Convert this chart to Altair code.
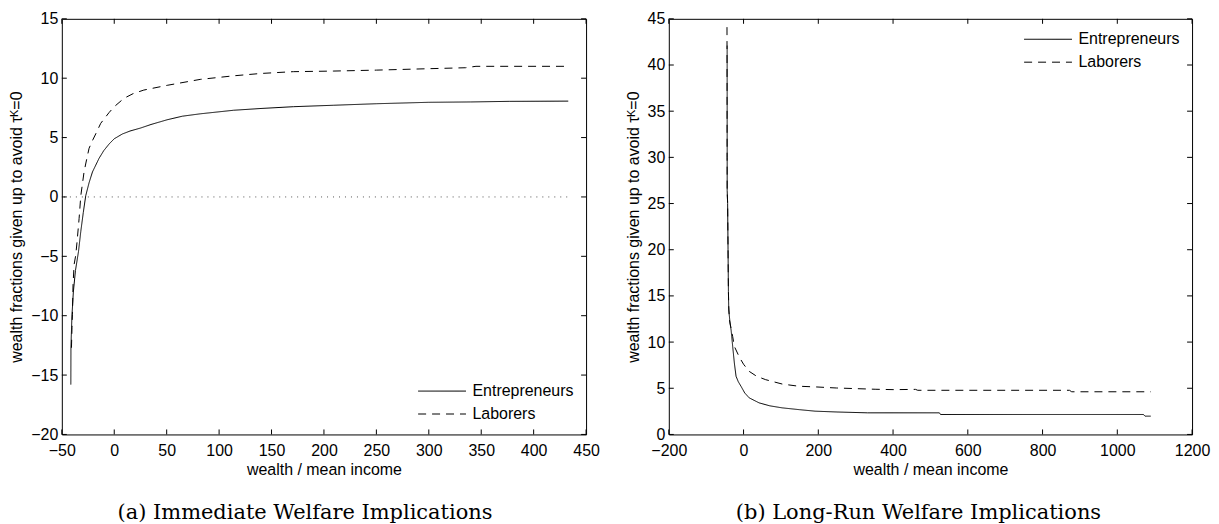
import altair as alt
import pandas as pd

# ---------------- data, panel (a): immediate welfare implications ----------------
ent_a_x = [-41.4, -41.3, -40.4, -39.0, -37.0, -34.1, -31.9, -29.5, -27.2, -24.0, -20.8, -14.5, -10.0, -5.0,
           0.0, 7.7, 15.0, 25.0, 35.0, 50.5, 65.0, 82.0, 113.8, 140.0, 170.8, 208.8, 250.0, 300.0, 340.0,
           376.8, 433.0]
ent_a_y = [-15.8, -12.7, -10.1, -8.0, -6.2, -4.6, -2.9, -1.3, 0.1, 1.2, 2.1, 3.25, 3.9, 4.45,
           4.9, 5.3, 5.55, 5.8, 6.1, 6.5, 6.8, 7.0, 7.3, 7.45, 7.6, 7.72, 7.85, 7.97, 8.0,
           8.05, 8.07]
lab_a_x = [-40.8, -40.3, -39.9, -39.3, -38.3, -36.7, -35.5, -33.5, -31.9, -28.8, -26.0, -24.0, -20.5, -17.7,
           -12.9, -5.0, 0.0, 9.2, 18.0, 28.2, 50.5, 82.0, 113.8, 140.0, 170.8, 208.8, 250.0, 300.0, 335.0,
           345.0, 433.0]
lab_a_y = [-12.7, -11.0, -9.9, -7.4, -5.7, -4.9, -3.8, -1.8, 0.1, 2.1, 3.3, 4.1, 4.8, 5.3,
           6.2, 7.1, 7.6, 8.3, 8.7, 9.0, 9.4, 9.9, 10.2, 10.4, 10.55, 10.6, 10.68, 10.8, 10.88,
           11.0, 11.0]
zero_a_x = [-48, 432]
zero_a_y = [0, 0]
xt_a = [-50, 0, 50, 100, 150, 200, 250, 300, 350, 400, 450]
yt_a = [-20, -15, -10, -5, 0, 5, 10, 15]

# ---------------- data, panel (b): long-run welfare implications ----------------
ent_b_x = [-43.9, -43.8, -42.6, -41.5, -40.5, -39.6, -36.0, -33.3, -29.1, -24.6, -20.1, -14.0, -6.9, 3.0,
           15.1, 41.5, 70.0, 103.0, 150.0, 191.3, 250.0, 332.0, 524.0, 527.0, 1070.0, 1074.0, 1089.5]
ent_b_y = [42.1, 26.4, 25.0, 20.0, 15.5, 13.5, 12.0, 11.3, 9.53, 7.73, 6.3, 5.7, 5.22, 4.5,
           3.96, 3.42, 3.1, 2.88, 2.68, 2.52, 2.43, 2.34, 2.34, 2.16, 2.16, 1.98, 1.98]
lab_b_x = [-44.3, -44.2, -44.0, -43.8, -42.6, -41.5, -40.5, -39.6, -37.8, -33.0, -29.1, -24.6, -11.4, 0.0,
           15.1, 35.0, 59.2, 103.0, 147.2, 195.5, 248.3, 301.0, 354.0, 402.6, 460.0, 466.0, 872.0, 878.0,
           1089.5]
lab_b_y = [44.1, 40.0, 30.0, 26.3, 25.0, 20.0, 15.5, 13.8, 12.4, 11.4, 10.6, 9.53, 8.38, 7.6,
           6.83, 6.3, 5.93, 5.46, 5.22, 5.14, 5.03, 4.96, 4.89, 4.85, 4.88, 4.78, 4.78, 4.62,
           4.62]
xt_b = [-200, 0, 200, 400, 600, 800, 1000, 1200]
yt_b = [0, 5, 10, 15, 20, 25, 30, 35, 40, 45]

series = ["Entrepreneurs", "Laborers"]
x_title = "wealth / mean income"
y_title = "wealth fractions given up to avoid  \u03c4\u1d37=0"
captions = ["(a)  Immediate Welfare Implications", "(b)  Long-Run Welfare Implications"]

FONT = "Liberation Sans"
SERIF = "DejaVu Serif"
FS = 16


def series_frame(ex, ey, lx, ly):
    rows = []
    for name, xs, ys in ((series[0], ex, ey), (series[1], lx, ly)):
        for i, (x, y) in enumerate(zip(xs, ys)):
            rows.append({"series": name, "x": x, "y": y, "i": i})
    return pd.DataFrame(rows)


def panel(df, xdom, ydom, xt, yt, W, H, legend_orient, caption, cap_dx, zero=None):
    xs = alt.Scale(domain=xdom, nice=False, zero=False)
    ys = alt.Scale(domain=ydom, nice=False, zero=False)
    x_axis = alt.Axis(values=xt, title=x_title, format="d", ticks=False, domain=False, grid=False,
                      labelFont=FONT, labelFontSize=FS, labelColor="black", labelPadding=8,
                      labelFlush=False, labelOverlap=False,
                      titleFont=FONT, titleFontSize=FS, titleFontWeight="normal",
                      titleColor="black", titlePadding=3)
    y_axis = alt.Axis(values=yt, title=y_title, format="d", ticks=False, domain=False, grid=False,
                      labelFont=FONT, labelFontSize=FS, labelColor="black", labelPadding=4,
                      labelFlush=False, labelOverlap=False,
                      titleFont=FONT, titleFontSize=FS, titleFontWeight="normal",
                      titleColor="black", titlePadding=6)
    legend = alt.Legend(title=None, orient=legend_orient, offset=12, padding=0,
                        symbolType="M-1,0H5", symbolSize=256, symbolStrokeWidth=1,
                        symbolStrokeColor="black", symbolFillColor="transparent",
                        labelFont=FONT, labelFontSize=FS,
                        labelColor="black", labelOffset=38, rowPadding=6)
    X = lambda f: alt.X(f, scale=xs, axis=x_axis, title=x_title)
    Y = lambda f: alt.Y(f, scale=ys, axis=y_axis, title=y_title)
    layers = []
    lines = alt.Chart(df).mark_line(color="black", strokeWidth=1).encode(
        x=X("x:Q"),
        y=Y("y:Q"),
        strokeDash=alt.StrokeDash("series:N",
                                  scale=alt.Scale(domain=series, range=[[1, 0], [8, 6]]),
                                  legend=legend),
        order=alt.Order("i:Q"),
    )
    layers.append(lines)
    if zero is not None:
        zdf = pd.DataFrame({"x": zero[0], "y": zero[1]})
        layers.append(alt.Chart(zdf).mark_line(color="#555555", strokeWidth=1,
                                               strokeDash=[1, 5]).encode(
            x=X("x:Q"), y=Y("y:Q")))
    xtdf = pd.DataFrame({"v": xt})
    ytdf = pd.DataFrame({"v": yt})
    layers.append(alt.Chart(xtdf).mark_rule(color="black", strokeWidth=1).encode(
        x=X("v:Q"), y=alt.value(H), y2=alt.value(H - 5)))
    layers.append(alt.Chart(xtdf).mark_rule(color="black", strokeWidth=1).encode(
        x=X("v:Q"), y=alt.value(0), y2=alt.value(5)))
    layers.append(alt.Chart(ytdf).mark_rule(color="black", strokeWidth=1).encode(
        y=Y("v:Q"), x=alt.value(0), x2=alt.value(5)))
    layers.append(alt.Chart(ytdf).mark_rule(color="black", strokeWidth=1).encode(
        y=Y("v:Q"), x=alt.value(W), x2=alt.value(W - 5)))
    return alt.layer(*layers).properties(
        width=W, height=H,
        title=alt.TitleParams(caption, orient="bottom", anchor="middle", frame="group",
                              font=SERIF, fontSize=21, fontWeight="normal", color="black",
                              offset=25, dx=cap_dx),
    )


left = panel(series_frame(ent_a_x, ent_a_y, lab_a_x, lab_a_y), [-50, 450], [-20, 15],
             xt_a, yt_a, 526, 417, "bottom-right", captions[0], -19, zero=(zero_a_x, zero_a_y))
right = panel(series_frame(ent_b_x, ent_b_y, lab_b_x, lab_b_y), [-200, 1200], [0, 45],
              xt_b, yt_b, 525, 417, "top-right", captions[1], -12)

chart = alt.hconcat(left, right, spacing=24).resolve_scale(
    strokeDash="independent").resolve_legend(strokeDash="independent").properties(
    padding={"left": 0, "top": 1, "right": 0, "bottom": 0},
    background="white",
).configure_view(stroke="black", strokeWidth=1)

chart.save("out.html", embed_options={"renderer": "svg", "actions": False})
